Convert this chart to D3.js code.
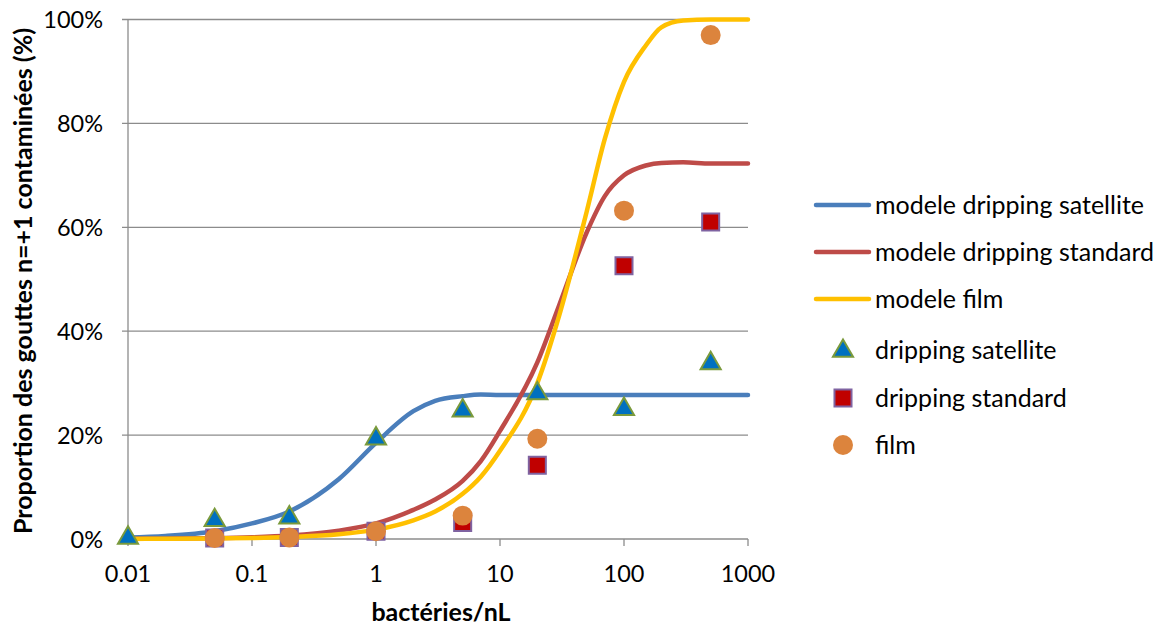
<!DOCTYPE html>
<html>
<head>
<meta charset="utf-8">
<script src="https://cdn.jsdelivr.net/npm/d3@7"></script>
<style>
  body { margin: 0; background: #fff; }
  text { font-family: Lato, "Open Sans", sans-serif; fill: #000; }
</style>
</head>
<body>
<svg id="chart" width="1161" height="628"></svg>
<script>
'use strict'

const modelX = [0.01, 0.02, 0.05, 0.1, 0.2, 0.5, 1, 2, 3, 5, 7, 10, 20, 30, 50, 70, 100, 150, 200, 300, 500, 1000]
const modelSatellite = [0.3, 0.6, 1.5, 3.0, 5.3, 11.5, 18.5, 24.6, 26.6, 27.5, 27.8, 27.7, 27.7, 27.7, 27.7, 27.7, 27.7, 27.7, 27.7, 27.7, 27.7, 27.7]
const modelStandard = [0.03, 0.07, 0.16, 0.33, 0.66, 1.6, 3.0, 5.6, 7.6, 11.2, 15, 20.8, 34, 45, 59, 66, 70, 71.9, 72.4, 72.5, 72.3, 72.3]
const modelFilm = [0.02, 0.04, 0.1, 0.2, 0.4, 0.9, 1.8, 3.6, 5.3, 8.7, 12, 17, 30, 43, 63, 77, 88, 95, 98.5, 99.8, 100, 100]

// measured points
const measX = [0.01, 0.05, 0.2, 1, 5, 20, 100, 500]
const measSatellite = [0.4, 3.8, 4.3, 19.5, 24.9, 28.2, 25.2, 34]
const measStandardX = [0.05, 0.2, 1, 5, 20, 100, 500]
const measStandard = [0.2, 0.3, 1.5, 3.2, 14.2, 52.6, 61]
const measFilm = [0.2, 0.3, 1.5, 4.5, 19.3, 63.2, 97]

const xTicks = [0.01, 0.1, 1, 10, 100, 1000]
const yTicks = [0, 20, 40, 60, 80, 100]

const seriesNames = ['modele dripping satellite', 'modele dripping standard', 'modele film',
                     'dripping satellite', 'dripping standard', 'film']

const colBlue = '#4a7ebb', colRed = '#be4b48', colYellow = '#ffc000'

const plotLeft = 128, plotRight = 748, plotTop = 19.5, plotBottom = 539

const svg = d3.select('#chart')

const x = d3.scaleLog().domain([0.01, 1000]).range([plotLeft, plotRight])
const y = d3.scaleLinear().domain([0, 100]).range([plotBottom, plotTop])

// horizontal gridlines + left tick marks
svg.append('g')
  .selectAll('line')
  .data(yTicks)
  .enter().append('line')
    .attr('x1', plotLeft - 6).attr('x2', plotRight)
    .attr('y1', d => y(d)).attr('y2', d => y(d))
    .attr('stroke', '#8c8c8c').attr('stroke-width', 1.3)

// vertical axis line
svg.append('line')
  .attr('x1', plotLeft).attr('x2', plotLeft)
  .attr('y1', plotTop).attr('y2', plotBottom)
  .attr('stroke', '#8c8c8c').attr('stroke-width', 1.3)

// x tick marks
svg.append('g')
  .selectAll('line')
  .data(xTicks)
  .enter().append('line')
    .attr('x1', d => x(d)).attr('x2', d => x(d))
    .attr('y1', plotBottom).attr('y2', plotBottom + 7)
    .attr('stroke', '#8c8c8c').attr('stroke-width', 1.3)

// tick labels
svg.append('g')
  .selectAll('text')
  .data(yTicks)
  .enter().append('text')
    .attr('x', 103).attr('y', d => y(d) + 8.5)
    .attr('text-anchor', 'end')
    .style('font-size', '23.5px')
    .text(d => d + '%')

svg.append('g')
  .selectAll('text')
  .data(xTicks)
  .enter().append('text')
    .attr('x', d => x(d)).attr('y', 582)
    .attr('text-anchor', 'middle')
    .style('font-size', '23.5px')
    .text(d => String(d))

// axis titles
svg.append('text')
  .attr('x', 441).attr('y', 621)
  .attr('text-anchor', 'middle')
  .style('font-size', '25px').style('font-weight', 'bold')
  .text('bactéries/nL')

svg.append('text')
  .attr('transform', 'translate(32,281) rotate(-90)')
  .attr('text-anchor', 'middle')
  .style('font-size', '25px').style('font-weight', 'bold')
  .text('Proportion des gouttes n=+1 contaminées (%)')

// model curves
const line = d3.line()
  .x(d => x(d[0]))
  .y(d => y(d[1]))
  .curve(d3.curveMonotoneX)

const models = [
  { values: modelSatellite, color: colBlue },
  { values: modelStandard, color: colRed },
  { values: modelFilm, color: colYellow }
]

svg.append('g')
  .selectAll('path')
  .data(models)
  .enter().append('path')
    .attr('d', m => line(modelX.map((v, i) => [v, m.values[i]])))
    .attr('fill', 'none')
    .attr('stroke', m => m.color)
    .attr('stroke-width', 4.5)
    .attr('stroke-linecap', 'round')

// markers
const triangle = d3.symbol().type(d3.symbolTriangle).size(175)
const square = d3.symbol().type(d3.symbolSquare).size(290)
const circle = d3.symbol().type(d3.symbolCircle).size(314)

function drawMarkers(g, xs, ys, sym, fill, stroke, dy) {
  g.selectAll('path')
    .data(xs.map((v, i) => [v, ys[i]]))
    .enter().append('path')
      .attr('d', sym)
      .attr('transform', d => `translate(${x(d[0])},${y(d[1]) + dy})`)
      .attr('fill', fill)
      .attr('stroke', stroke)
      .attr('stroke-width', stroke === 'none' ? 0 : 2)
}

drawMarkers(svg.append('g'), measStandardX, measStandard, square, '#c00000', '#7f63a1', 0)
drawMarkers(svg.append('g'), measStandardX, measFilm, circle, '#dc843d', 'none', 0)
drawMarkers(svg.append('g'), measX, measSatellite, triangle, '#0070c0', '#7a9a3c', 1)

// legend
const legendY = [205, 252, 299, 350, 398, 445]
const legend = svg.append('g')

legend.selectAll('line')
  .data(models)
  .enter().append('line')
    .attr('x1', 816).attr('x2', 869)
    .attr('y1', (m, i) => legendY[i]).attr('y2', (m, i) => legendY[i])
    .attr('stroke', m => m.color)
    .attr('stroke-width', 4.5)
    .attr('stroke-linecap', 'round')

const legendMarkers = [
  { sym: triangle, fill: '#0070c0', stroke: '#7a9a3c', dy: 1 },
  { sym: square, fill: '#c00000', stroke: '#7f63a1', dy: 0 },
  { sym: circle, fill: '#dc843d', stroke: 'none', dy: 0 }
]
legend.selectAll('path')
  .data(legendMarkers)
  .enter().append('path')
    .attr('d', m => m.sym())
    .attr('transform', (m, i) => `translate(843,${legendY[i + 3] + m.dy})`)
    .attr('fill', m => m.fill)
    .attr('stroke', m => m.stroke)
    .attr('stroke-width', m => m.stroke === 'none' ? 0 : 2)

legend.selectAll('text')
  .data(seriesNames)
  .enter().append('text')
    .attr('x', 875)
    .attr('y', (d, i) => legendY[i] + 8.5)
    .style('font-size', '25px')
    .text(d => d)
</script>
</body>
</html>
